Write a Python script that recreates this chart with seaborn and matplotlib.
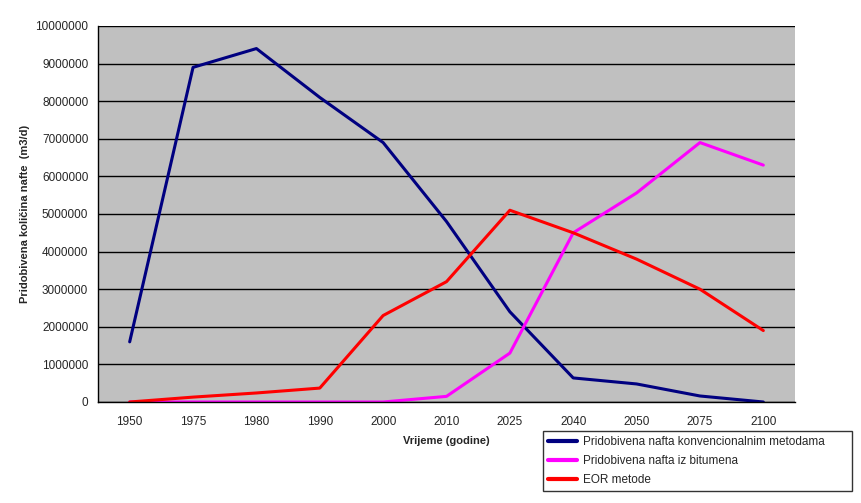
import matplotlib
matplotlib.use("Agg")
import matplotlib.pyplot as plt
import seaborn as sns
import pandas as pd
import numpy as np
from matplotlib.ticker import FixedLocator
from matplotlib.lines import Line2D

years = ["1950", "1975", "1980", "1990", "2000", "2010", "2025", "2040", "2050", "2075", "2100"]
konvencionalne = [1600000, 8900000, 9400000, 8100000, 6900000, 4800000, 2400000, 640000, 480000, 160000, 0]
bitumen = [0, 0, 0, 0, 0, 150000, 1300000, 4500000, 5560000, 6900000, 6300000]
eor = [0, 130000, 240000, 370000, 2300000, 3200000, 5100000, 4500000, 3800000, 3000000, 1900000]

series_names = ["Pridobivena nafta konvencionalnim metodama",
                "Pridobivena nafta iz bitumena",
                "EOR metode"]
colors = ["#000080", "#FF00FF", "#FF0000"]

rows = []
for name, vals in zip(series_names, [konvencionalne, bitumen, eor]):
    for i, (y, v) in enumerate(zip(years, vals)):
        rows.append({"pos": i, "year": y, "value": v, "series": name})
df = pd.DataFrame(rows)

sns.set_style("white")
plt.rcParams['font.family'] = ['Liberation Sans', 'DejaVu Sans']

fig = plt.figure(figsize=(8.61, 5.03), dpi=100)
ax = fig.add_axes([98/861, 1-402/503, (795-98)/861, (402-26)/503])
ax.set_facecolor("#C0C0C0")

sns.lineplot(data=df, x="pos", y="value", hue="series", hue_order=series_names,
             palette=colors, linewidth=2.2, ax=ax, legend=False)

ax.set_xlim(-0.5, len(years) - 0.5)
ax.set_ylim(0, 10000000)
ax.set_yticks(np.arange(0, 10000001, 1000000))
ax.set_yticklabels([f"{int(v)}" for v in np.arange(0, 10000001, 1000000)], fontsize=8.5)
ax.yaxis.grid(True, color="black", linewidth=1)
ax.set_axisbelow(True)

ax.set_xticks(range(len(years)))
ax.set_xticklabels(years, fontsize=8.5)
ax.xaxis.set_minor_locator(FixedLocator(np.arange(-0.5, len(years), 1)))
ax.tick_params(axis="x", which="major", length=0, pad=10)
ax.tick_params(axis="x", which="minor", length=5, width=1, color="black", direction="out")
ax.tick_params(axis="y", length=5, width=1, color="black", direction="out", pad=2)

for s in ["top", "right"]:
    ax.spines[s].set_visible(False)
for s in ["left", "bottom"]:
    ax.spines[s].set_color("black")
    ax.spines[s].set_linewidth(1)

ax.set_xlabel("Vrijeme (godine)", fontsize=8, fontweight="bold", labelpad=6)
ax.set_ylabel("Pridobivena količina nafte  (m3/d)", fontsize=8, fontweight="bold", labelpad=4)

handles = [Line2D([0], [0], color=c, linewidth=3) for c in colors]
leg = fig.legend(handles, series_names, loc="lower left",
                 bbox_to_anchor=(543/861, 12/503, (852-543)/861, (491-432)/503),
                 mode="expand", fontsize=8.5, frameon=True, fancybox=False,
                 edgecolor="black", handlelength=2.5, handletextpad=0.5,
                 borderpad=0.4, labelspacing=0.62, borderaxespad=0)
leg.get_frame().set_linewidth(1)

fig.savefig("out.png", dpi=100)
